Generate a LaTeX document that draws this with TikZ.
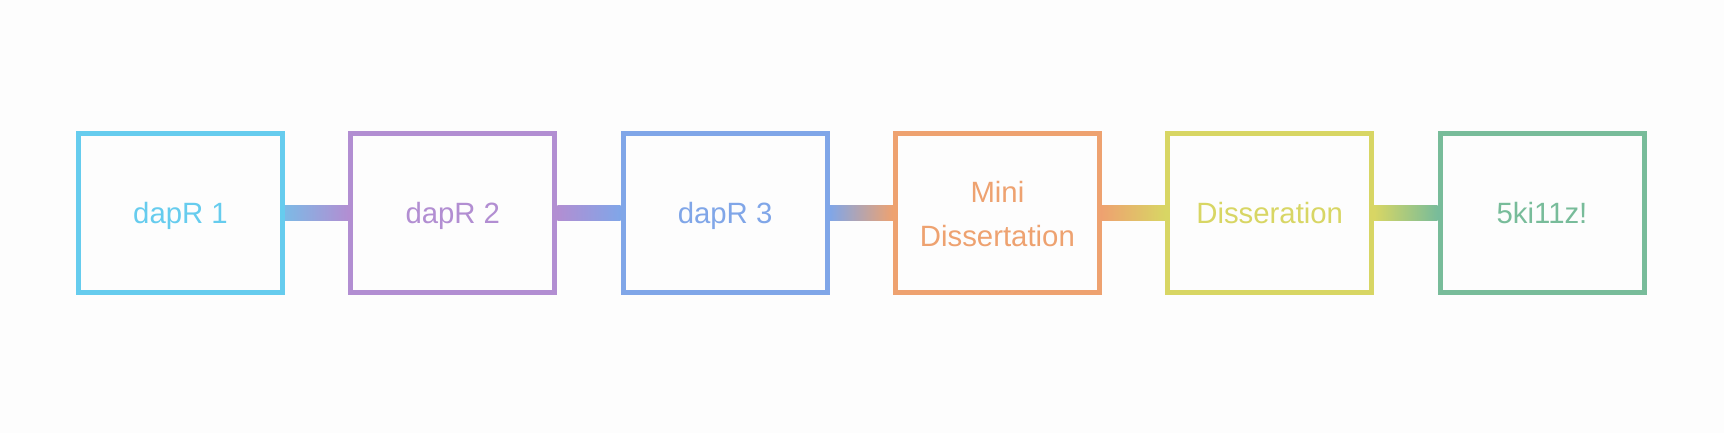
\documentclass[tikz,border=0pt]{standalone}
\usepackage{fontspec}
\setmainfont{Liberation Sans}
\usetikzlibrary{calc}
\definecolor{bg}{RGB}{253,253,253}
\definecolor{cA}{RGB}{102,204,238}
\definecolor{cB}{RGB}{178,142,210}
\definecolor{cC}{RGB}{128,166,232}
\definecolor{cD}{RGB}{238,162,112}
\definecolor{cE}{RGB}{216,214,100}
\definecolor{cF}{RGB}{120,188,154}
\tikzset{
  stagebox/.style={draw=#1, text=#1, line width=3.75pt, fill=bg,
    minimum width=153pt, minimum height=119.25pt, inner sep=0pt, outer sep=0pt,
    align=center, font=\fontsize{22}{33}\selectfont,
    text height=15.75pt, text depth=0pt},
  twolines/.style={text height=49.5pt},
}
\newcommand{\linkbar}[4]{%
  \shade[left color=#3, right color=#4]
    ($(#1.east)+(2.5,-7.35)$) rectangle ($(#2.west)+(-2.5,7.35)$);}
\begin{document}
\begin{tikzpicture}[x=0.75pt,y=-0.75pt]
\fill[bg] (0,0) rectangle (1724,433);
\useasboundingbox (0,0) rectangle (1724,433);
\node[stagebox=cA] (n1) at (180.5,213) {dapR 1};
\node[stagebox=cB] (n2) at (452.8,213) {dapR 2};
\node[stagebox=cC] (n3) at (725.1,213) {dapR 3};
\node[stagebox=cD, twolines] (n4) at (997.4,213) {Mini\\Dissertation};
\node[stagebox=cE] (n5) at (1269.7,213) {Disseration};
\node[stagebox=cF] (n6) at (1542,213) {5ki11z!};
\linkbar{n1}{n2}{cA!70!cB}{cB}
\linkbar{n2}{n3}{cB}{cC}
\linkbar{n3}{n4}{cC}{cD}
\linkbar{n4}{n5}{cD}{cE}
\linkbar{n5}{n6}{cE}{cF}
\end{tikzpicture}
\end{document}
